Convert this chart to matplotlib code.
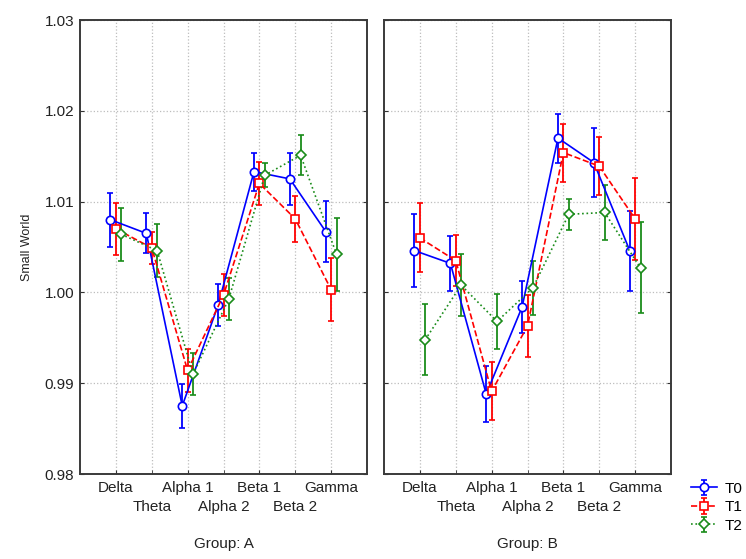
import numpy as np
import matplotlib
matplotlib.use("Agg")
import matplotlib.pyplot as plt
from matplotlib.ticker import FormatStrFormatter

plt.rcParams['font.family'] = ['Liberation Sans', 'DejaVu Sans']

bands = ['Delta', 'Theta', 'Alpha 1', 'Alpha 2', 'Beta 1', 'Beta 2', 'Gamma']
groups = ['A', 'B']
times = ['T0', 'T1', 'T2']

# means and error bars
a_t0 = [1.0080, 1.0065, 0.9875, 0.9986, 1.0133, 1.0125, 1.0067]
a_t1 = [1.0070, 1.0049, 0.9914, 0.9997, 1.0120, 1.0081, 1.0003]
a_t2 = [1.0064, 1.0046, 0.9910, 0.9993, 1.0129, 1.0151, 1.0042]
a_t0_err = [0.0030, 0.0022, 0.0024, 0.0023, 0.0021, 0.0029, 0.0034]
a_t1_err = [0.0029, 0.0018, 0.0024, 0.0023, 0.0024, 0.0025, 0.0035]
a_t2_err = [0.0029, 0.0029, 0.0023, 0.0023, 0.0013, 0.0022, 0.0040]

b_t0 = [1.0046, 1.0032, 0.9888, 0.9984, 1.0170, 1.0143, 1.0046]
b_t1 = [1.0060, 1.0035, 0.9891, 0.9963, 1.0154, 1.0139, 1.0081]
b_t2 = [0.9948, 1.0008, 0.9968, 1.0005, 1.0086, 1.0088, 1.0027]
b_t0_err = [0.0040, 0.0030, 0.0031, 0.0029, 0.0027, 0.0038, 0.0044]
b_t1_err = [0.0038, 0.0028, 0.0032, 0.0034, 0.0032, 0.0032, 0.0045]
b_t2_err = [0.0039, 0.0034, 0.0030, 0.0030, 0.0017, 0.0030, 0.0050]

means = {'A': [a_t0, a_t1, a_t2], 'B': [b_t0, b_t1, b_t2]}
errs = {'A': [a_t0_err, a_t1_err, a_t2_err], 'B': [b_t0_err, b_t1_err, b_t2_err]}

colors = ['#0000ff', '#ff0000', '#1a8c1a']
styles = ['-', '--', ':']
markers = ['o', 's', 'D']
msizes = [6, 5.5, 5]
offsets = [-0.15, 0.0, 0.15]

W, H = 746, 559
fig = plt.figure(figsize=(W / 100, H / 100), dpi=100)
panel_x = [80, 384]
axes = [fig.add_axes([px / W, 1 - 474 / H, 287 / W, 454 / H]) for px in panel_x]

x = np.arange(1, len(bands) + 1)
handles = []
for ax, g, px in zip(axes, groups, panel_x):
    for k in range(3):
        h = ax.errorbar(x + offsets[k], means[g][k], yerr=errs[g][k],
                        color=colors[k], ls=styles[k], lw=1.2,
                        marker=markers[k], ms=msizes[k], mfc='white',
                        mec=colors[k], mew=1.2, elinewidth=1.3,
                        capsize=2.5, capthick=1.2, zorder=3)
        if g == 'A':
            handles.append(h)
    ax.set_xlim(0, 8)
    ax.set_ylim(0.98, 1.03)
    ax.set_yticks(np.arange(0.98, 1.0301, 0.01))
    ax.yaxis.set_major_formatter(FormatStrFormatter('%.2f'))
    # band labels alternate on two rows
    ax.set_xticks(x[0::2])
    ax.set_xticklabels(bands[0::2], fontsize=11, color='#222222')
    ax.set_xticks(x[1::2], minor=True)
    ax.set_xticklabels(bands[1::2], minor=True, fontsize=11, color='#222222')
    ax.grid(True, which='both', axis='x', ls=':', color='#bdbdbd', lw=0.9,
            zorder=0)
    ax.grid(True, which='major', axis='y', ls=':', color='#bdbdbd', lw=0.9,
            zorder=0)
    ax.tick_params(axis='x', which='major', direction='in', length=3, pad=5,
                   color='#333333')
    ax.tick_params(axis='x', which='minor', direction='in', length=3,
                   pad=18.5, color='#333333')
    ax.tick_params(axis='y', direction='in', length=3, left=True,
                   right=True, pad=4, labelsize=11, labelcolor='#222222',
                   color='#333333')
    for s in ax.spines.values():
        s.set_color('#3a3a3a')
        s.set_linewidth(1.4)
    fig.text((px + 143.5) / W, 1 - 544 / H, 'Group: ' + g, fontsize=11,
             color='#222222', ha='center', va='center')

axes[1].tick_params(axis='y', labelleft=False)
fig.text(27 / W, 1 - 247 / H, 'Small World', fontsize=9, color='#222222',
         rotation=90, ha='center', va='center')

fig.legend(handles, times, loc='upper left',
           bbox_to_anchor=(683 / W, 1 - 474 / H), frameon=False,
           fontsize=11, handlelength=1.7, handletextpad=0.5,
           borderpad=0, labelspacing=0.3)

fig.savefig('out.png', dpi=100)
